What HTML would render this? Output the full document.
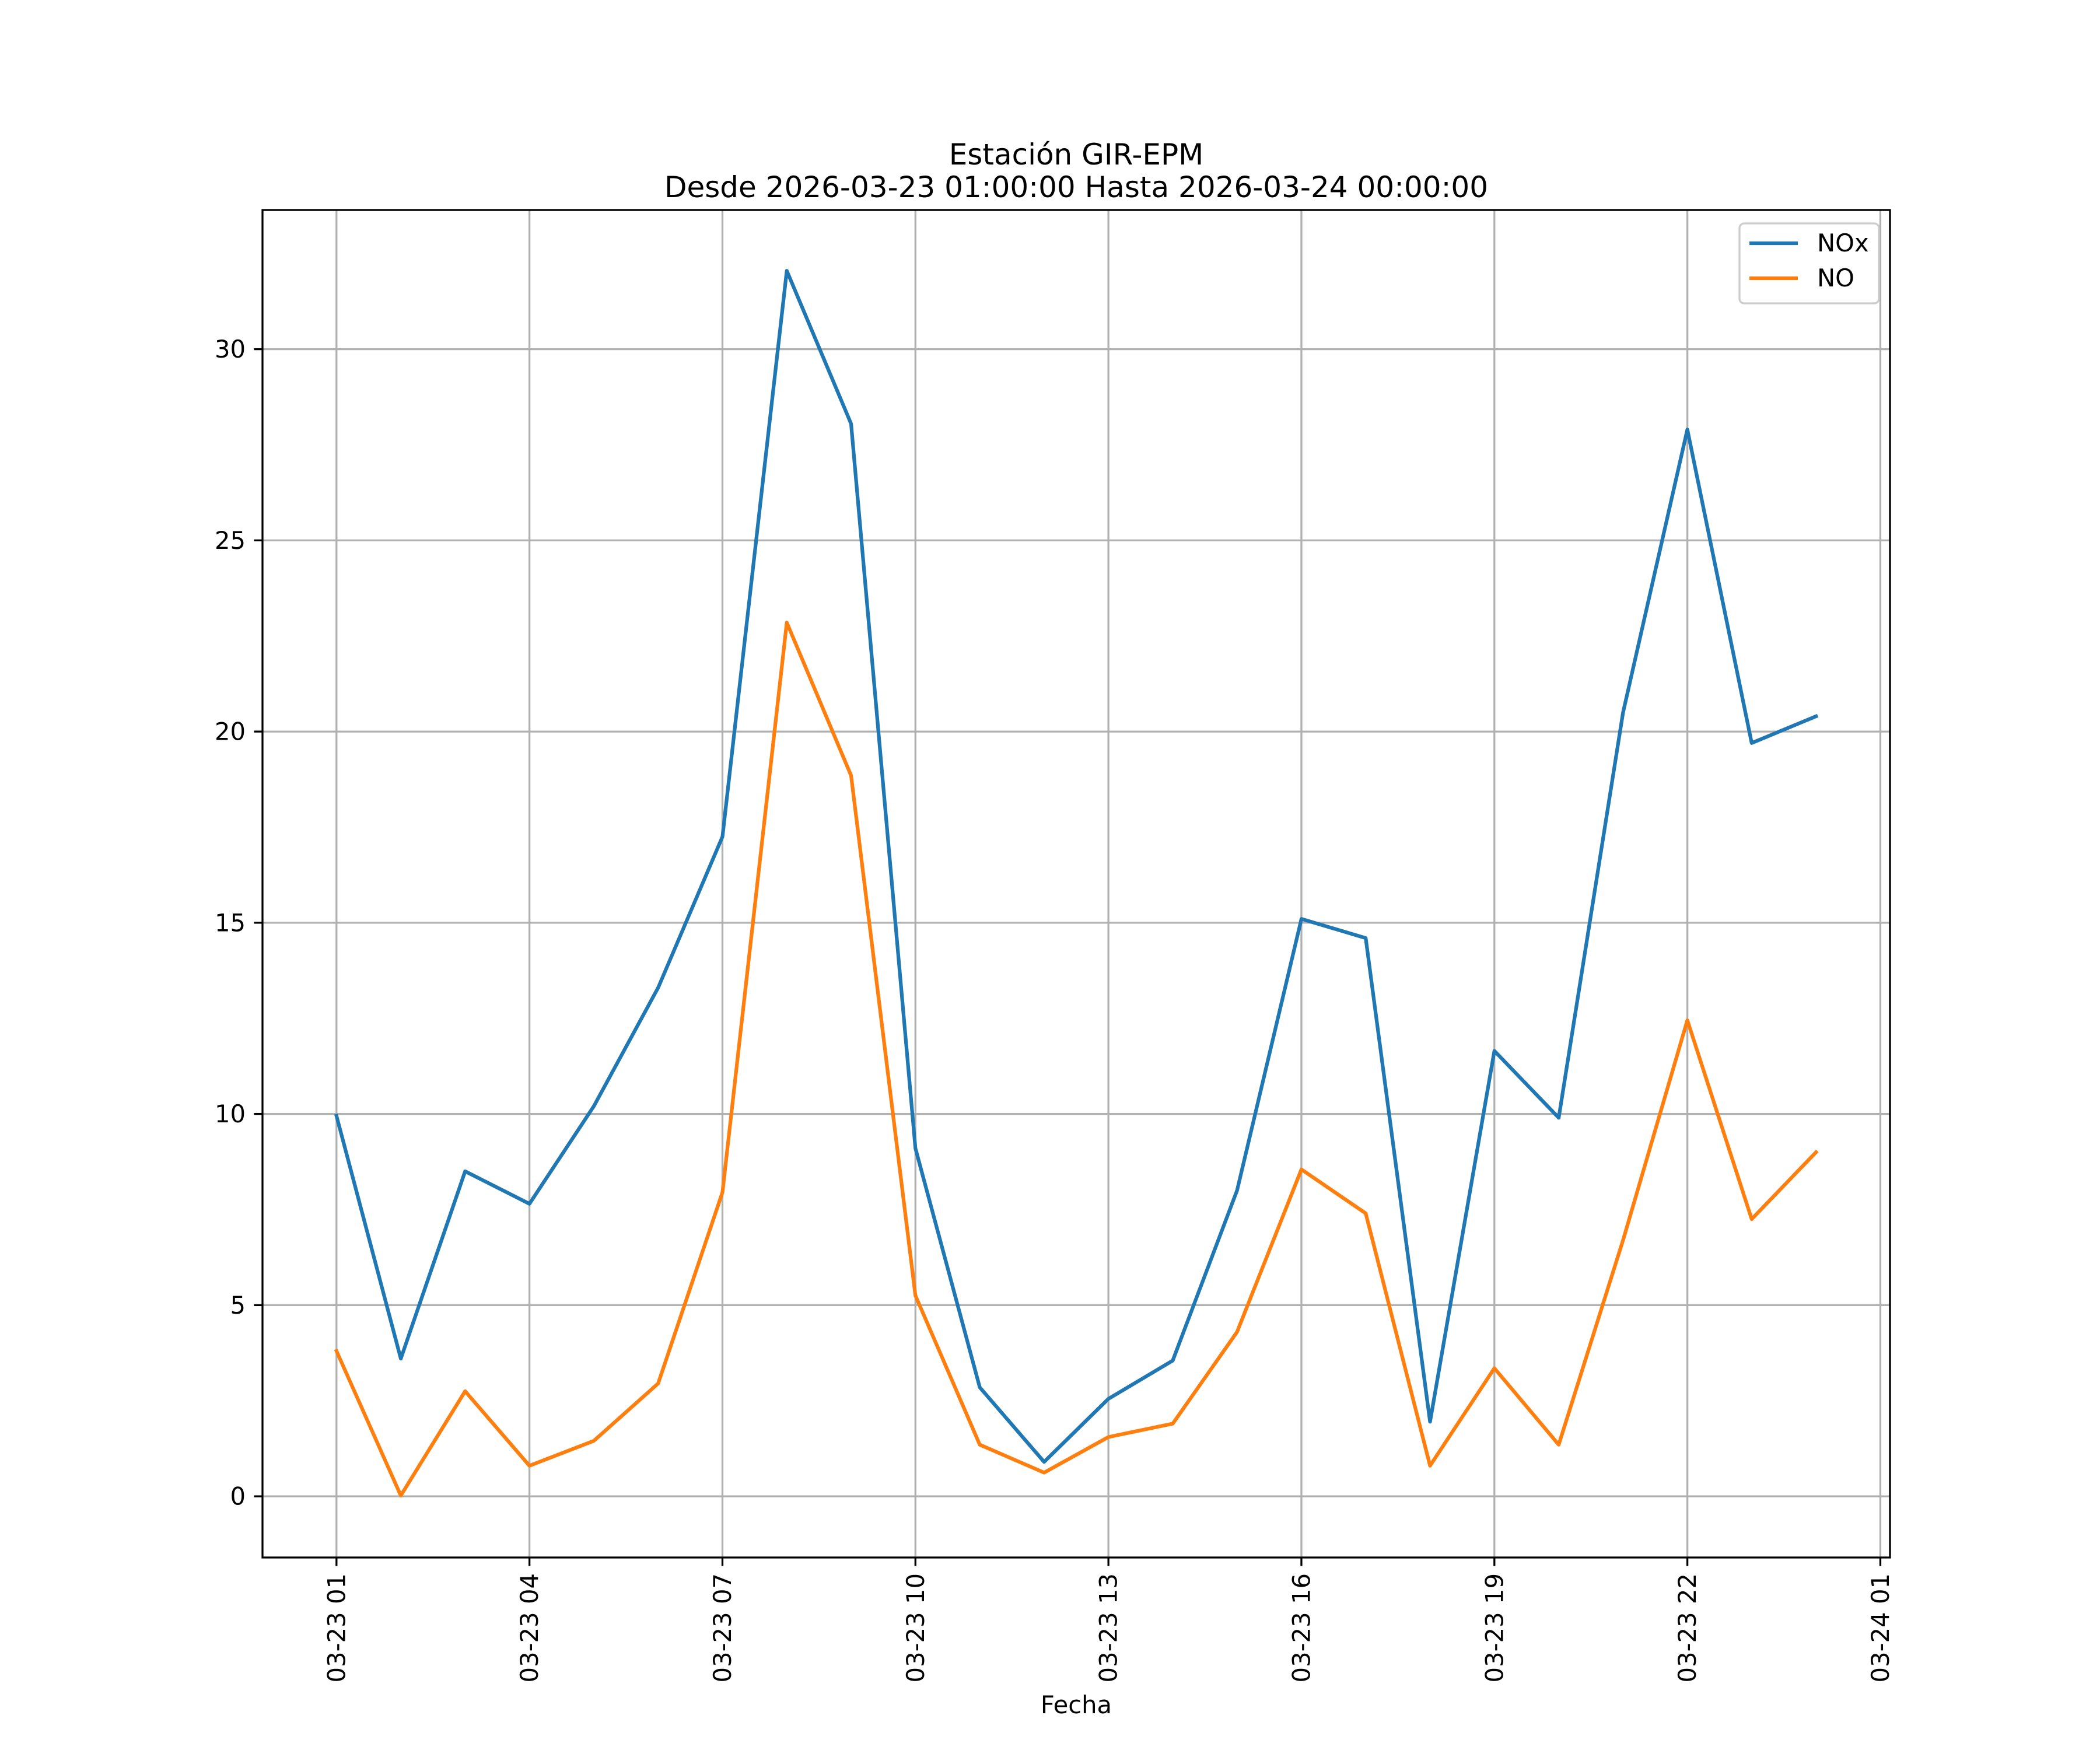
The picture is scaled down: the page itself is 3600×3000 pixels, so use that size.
<!DOCTYPE html>
<html><head><meta charset="utf-8"><style>
html,body{margin:0;padding:0;background:#fff}
svg{display:block;font-family:"DejaVu Sans","Liberation Sans",sans-serif}
</style></head><body>
<svg id="chart" width="3600" height="3000" viewBox="0 0 3600 3000" xmlns="http://www.w3.org/2000/svg">
<rect width="3600" height="3000" fill="#fff"/>
<g id="grid"></g>
<g id="series"></g>
<rect x="450" y="360" width="2790" height="2310" fill="none" stroke="#000" stroke-width="3.3"/>
<g id="ticks"></g>
<text x="1845" y="282" font-size="50" text-anchor="middle">Estación GIR-EPM</text>
<text x="1845" y="338" font-size="50" text-anchor="middle">Desde 2026-03-23 01:00:00 Hasta 2026-03-24 00:00:00</text>
<text x="1845" y="2937" font-size="41.7" text-anchor="middle">Fecha</text>
<g>
<rect x="2982" y="383" width="239" height="137" rx="8" fill="#fff" fill-opacity="0.8" stroke="#ccc" stroke-width="3.3"/>
<line x1="2999" y1="417" x2="3082" y2="417" stroke="#1f77b4" stroke-width="6.25"/>
<text x="3115" y="431" font-size="41.7">NOx</text>
<line x1="2999" y1="477" x2="3082" y2="477" stroke="#ff7f0e" stroke-width="6.25"/>
<text x="3115" y="491" font-size="41.7">NO</text>
</g>
</svg>
<script>
const hours = [0,1,2,3,4,5,6,7,8,9,10,11,12,13,14,15,16,17,18,19,20,21,22,23];
const noxValues = [9.95,3.6,8.5,7.65,10.2,13.3,17.25,32.05,28.05,9.1,2.85,0.9,2.55,3.55,8.0,15.1,14.6,1.95,11.65,9.9,20.5,27.9,19.7,20.4];
const noValues = [3.8,0.02,2.75,0.8,1.45,2.95,7.95,22.85,18.85,5.25,1.35,0.62,1.55,1.9,4.3,8.55,7.4,0.8,3.35,1.35,6.7,12.45,7.25,9.0];
const xTickHours = [0,3,6,9,12,15,18,21,24];
const xTickLabels = ["03-23 01","03-23 04","03-23 07","03-23 10","03-23 13","03-23 16","03-23 19","03-23 22","03-24 01"];
const yTicks = [0,5,10,15,20,25,30];

const L=450,R=3240,T=360,B=2670;
const xMin=-1.15,xMax=24.15,yMin=-1.6,yMax=33.64;
const sx=v=>L+(v-xMin)/(xMax-xMin)*(R-L);
const sy=v=>B-(v-yMin)/(yMax-yMin)*(B-T);
const NS="http://www.w3.org/2000/svg";
function mk(tag,attrs,parent){const e=document.createElementNS(NS,tag);for(const k in attrs)e.setAttribute(k,attrs[k]);parent.appendChild(e);return e;}
const grid=document.getElementById('grid'),ticks=document.getElementById('ticks'),series=document.getElementById('series');
xTickHours.forEach((h,i)=>{
  const x=sx(h);
  const g=mk('line',{x1:x,x2:x,y1:T,y2:B,stroke:'#b0b0b0','stroke-width':3.3},grid);
  
  
  const t=mk('line',{x1:x,x2:x,y1:B,y2:B+14.6,stroke:'#000','stroke-width':3.3},ticks);
  
  
  const lb=mk('text',{x:0,y:0,'font-size':41.7,'text-anchor':'end','dominant-baseline':'central',transform:`translate(${x},${B+27}) rotate(-90)`},ticks);
  lb.textContent=xTickLabels[i];
  
  
});
yTicks.forEach(v=>{
  const y=sy(v);
  const g=mk('line',{x1:L,x2:R,y1:y,y2:y,stroke:'#b0b0b0','stroke-width':3.3},grid);
  
  
  const t=mk('line',{x1:L-14.6,x2:L,y1:y,y2:y,stroke:'#000','stroke-width':3.3},ticks);
  
  
  const lb=mk('text',{x:L-29,y:y,'font-size':41.7,'text-anchor':'end','dominant-baseline':'central'},ticks);
  lb.textContent=String(v);
  
  
});
function line(vals,color,name){
  const d=vals.map((v,i)=>(i?'L':'M')+sx(hours[i]).toFixed(1)+','+sy(v).toFixed(1)).join(' ');
  const p=mk('path',{d:d,fill:'none',stroke:color,'stroke-width':6.25,'stroke-linejoin':'round','stroke-linecap':'square'},series);
  
  
}
line(noxValues,'#1f77b4','nox-line');
line(noValues,'#ff7f0e','no-line');
</script>
</body></html>
